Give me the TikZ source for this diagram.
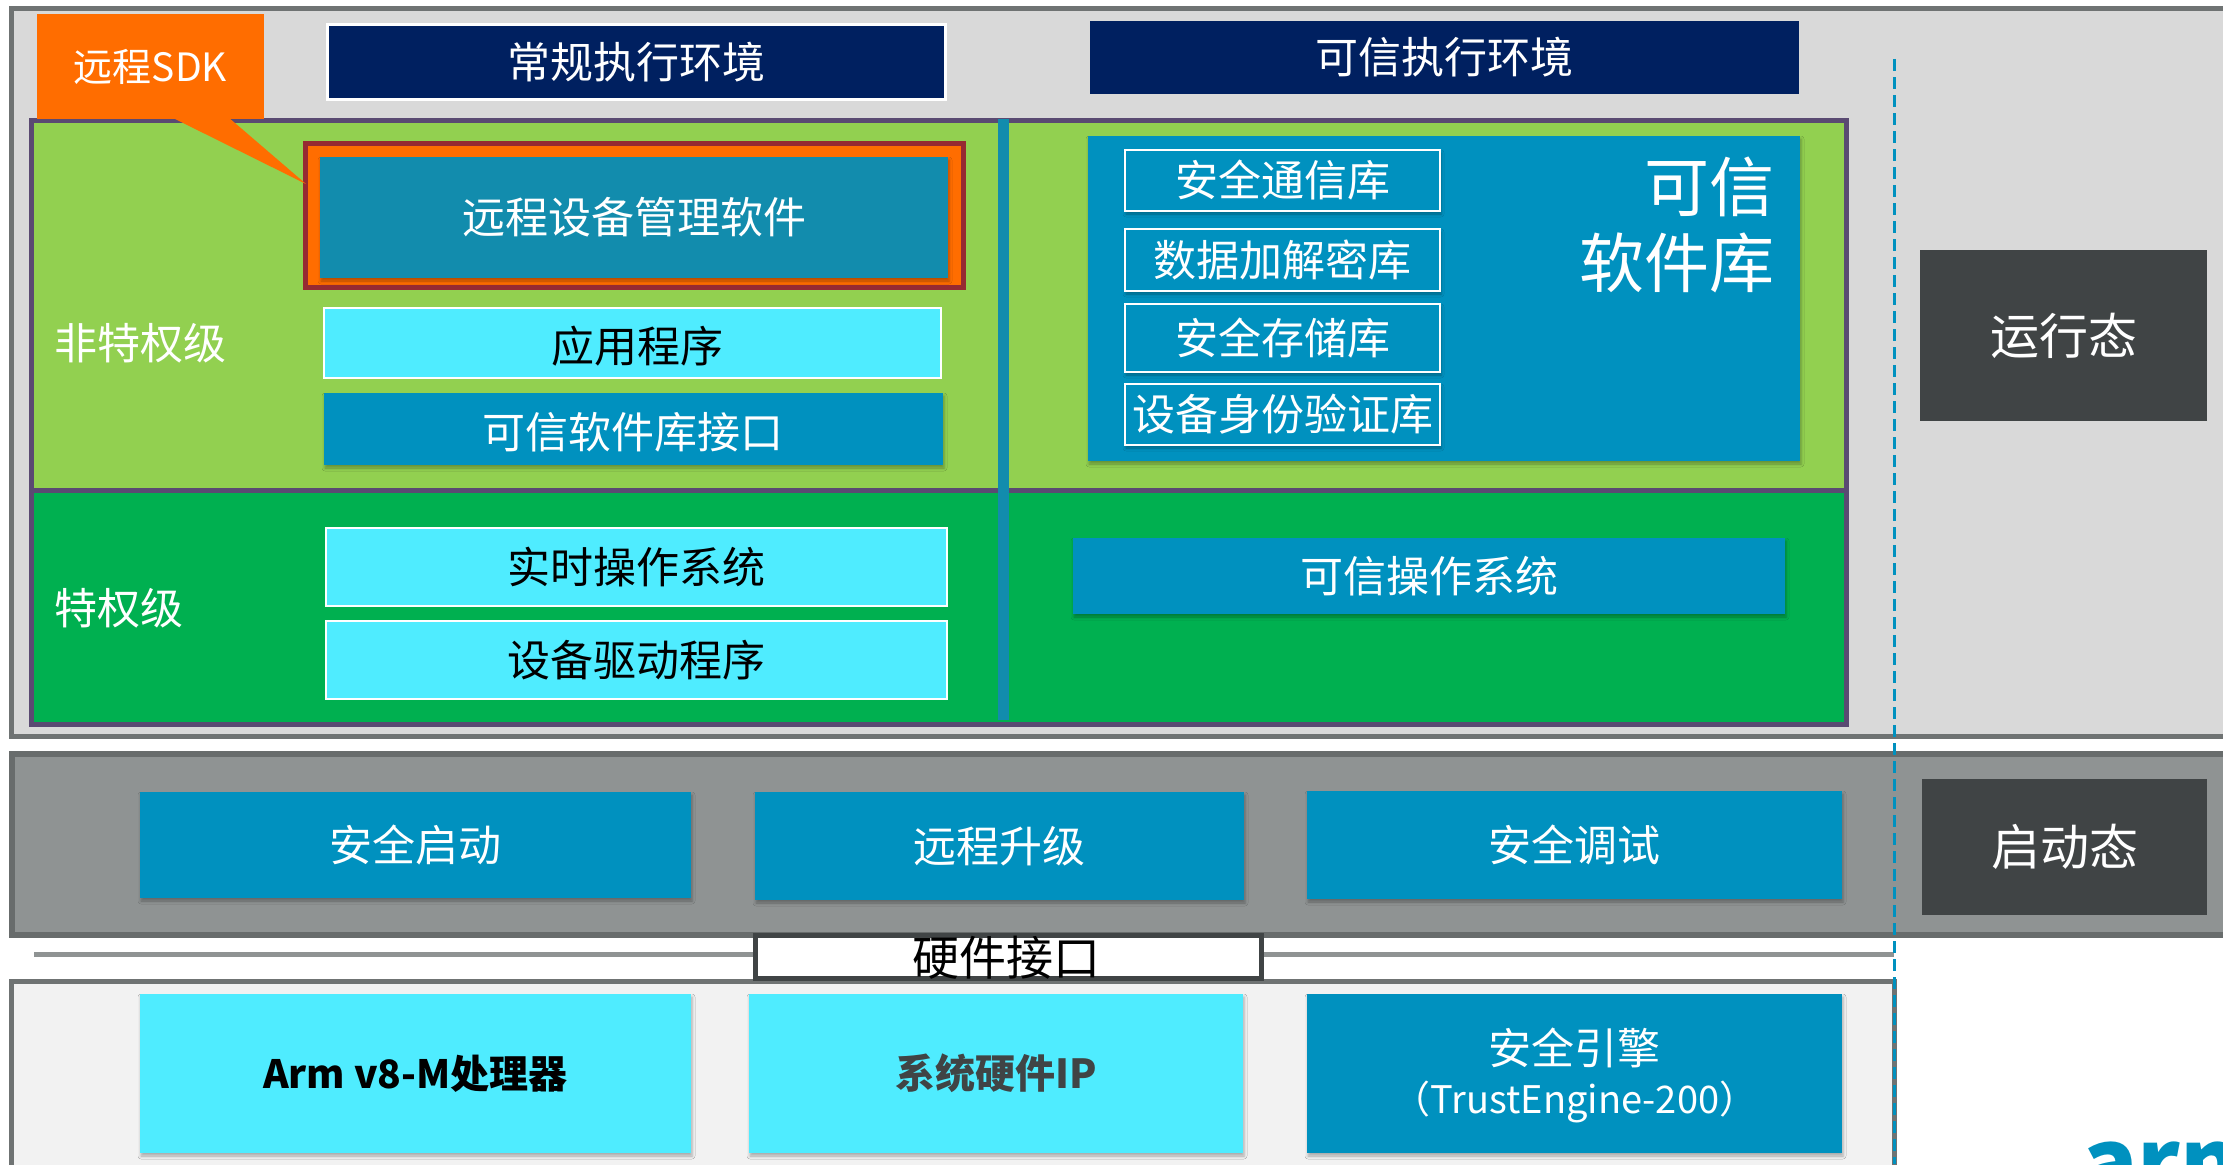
\documentclass[tikz,border=0pt]{standalone}
\usepackage{fontspec}
\setmainfont{Noto Sans CJK SC}
\usetikzlibrary{shadows.blur}
\definecolor{cGray}{HTML}{D9D9D9}
\definecolor{cGrayLine}{HTML}{6F7373}
\definecolor{cBand}{HTML}{8F9393}
\definecolor{cBandLine}{HTML}{686C6C}
\definecolor{cPale}{HTML}{F2F2F2}
\definecolor{cLight}{HTML}{92D050}
\definecolor{cDark}{HTML}{00B050}
\definecolor{cPurple}{HTML}{5A4A72}
\definecolor{cNavy}{HTML}{002060}
\definecolor{cBlue}{HTML}{0091BF}
\definecolor{cTeal}{HTML}{128CAD}
\definecolor{cCyan}{HTML}{4FECFF}
\definecolor{cOrange}{HTML}{FF6D00}
\definecolor{cRed}{HTML}{962A32}
\definecolor{cSlate}{HTML}{404445}
\tikzset{
  x=1pt,y=-1pt,
  bx/.style={rectangle,inner sep=0pt,outer sep=0pt,align=center,text=white},
  txt/.style={font=\fontsize{#1}{#1}\selectfont},
  txt/.default=43,
  shd/.style={blur shadow={shadow xshift=1pt,shadow yshift=-3pt,shadow blur radius=3pt,shadow opacity=30}},
  frameA/.style={bx,fill=cGray,draw=cGrayLine,line width=5pt},
  frameB/.style={bx,fill=cBand,draw=cBandLine,line width=6pt},
  frameC/.style={bx,fill=cPale,draw=cGrayLine,line width=5pt},
  zoneL/.style={bx,fill=cLight,draw=cPurple,line width=5pt},
  zoneD/.style={bx,fill=cDark,draw=cPurple,line width=5pt},
  navy/.style={bx,fill=cNavy,txt},
  blue/.style={bx,fill=cBlue,shd,txt},
  cyan/.style={bx,fill=cCyan,text=black,shd,txt},
  cyanw/.style={bx,fill=cCyan,draw=white,line width=2.5pt,text=black,txt},
  libbox/.style={bx,fill=cBlue,draw=white,line width=1.5pt,shd,txt},
  state/.style={bx,fill=cSlate,txt=49},
  plain/.style={bx,txt},
}
% name, x1, y1, x2, y2, style, text
\newcommand{\bxn}[7]{\node[#6,minimum width={(#4)-(#2)},minimum height={(#5)-(#3)}] (#1) at ({((#2)+(#4))/2},{((#3)+(#5))/2}) {#7};}
\begin{document}
\begin{tikzpicture}
\useasboundingbox (0,0) rectangle (2223,1164);
\begin{scope}
\clip (0,0) rectangle (2223,1164);
% frames
\bxn{runframe}{11.5}{8.5}{2260}{736}{frameA}{}
\bxn{bootframe}{11.5}{754}{2260}{935}{frameB}{}
\bxn{hwframe}{11.5}{981}{1894.5}{1200}{frameC}{}
% zones
\bxn{zonetop}{31}{120}{1846}{490}{zoneL}{}
\bxn{zonebot}{31}{490}{1846}{724.5}{zoneD}{}
\bxn{sep}{998}{119}{1008.5}{720}{bx,fill=cTeal}{}
% headers
\bxn{ree}{327}{25}{945}{99}{navy,draw=white,line width=3pt}{常规执行环境}
\bxn{tee}{1090}{21}{1799}{94}{navy}{可信执行环境}
% dashed line
\coordinate (dashtop) at (1894.5,59);
\coordinate (dashbot) at (1894.5,1164);
% remote management
\bxn{rmgr}{305.5}{143.5}{963}{287.5}{bx,fill=cOrange,draw=cRed,line width=5pt}{}
\bxn{rmsw}{320}{157}{948}{278}{bx,fill=cTeal,shd,txt}{远程设备管理软件}
% SDK callout
\bxn{sdk}{37}{14}{264}{119}{bx,fill=cOrange,txt=39}{远程SDK}
\coordinate (calltip) at (306,184);
\fill[cOrange] (171,117) -- (calltip) -- (228,117) -- cycle;
% non-privileged
\node[plain] (nonpriv) at (140.5,343) {非特权级};
\bxn{app}{324}{308}{941}{378}{cyanw}{}
\node[bx,txt,text=black] (appt) at (637.5,346.5) {应用程序};
\bxn{tlapi}{324}{393}{943}{465}{blue}{}
\node[bx,txt] (tlapit) at (633,432.5) {可信软件库接口};
% privileged
\node[plain] (priv) at (119,608) {特权级};
\bxn{rtos}{326}{528}{947}{606}{cyanw}{实时操作系统}
\bxn{drv}{326}{621}{947}{699}{cyanw}{设备驱动程序}
\bxn{tos}{1073}{538}{1785}{614}{blue}{}
\node[bx,txt] (tost) at (1429,576.5) {可信操作系统};
% trusted libs
\bxn{tlib}{1088}{136}{1800}{461}{blue}{}
\bxn{lib1}{1125}{150}{1440}{211}{libbox}{安全通信库}
\bxn{lib2}{1125}{229}{1440}{291}{libbox}{数据加解密库}
\bxn{lib3}{1125}{304}{1440}{372}{libbox}{安全存储库}
\bxn{lib4}{1125}{384}{1440}{445}{libbox}{设备身份验证库}
\node[bx,txt=65,anchor=east] (tl1) at (1774,187) {可信};
\node[bx,txt=65,anchor=east] (tl2) at (1774,263) {软件库};
% states
\bxn{run}{1920}{250}{2207}{421}{state}{运行态}
\bxn{boot}{1922}{779}{2207}{915}{state}{启动态}
% boot row
\bxn{sboot}{140}{792}{691}{898}{blue}{安全启动}
\bxn{rup}{755}{792}{1244}{900}{blue}{远程升级}
\bxn{sdbg}{1307}{791}{1842}{899}{blue}{安全调试}
% hardware interface
\coordinate (hwl) at (34,954.5);
\coordinate (hwr) at (1894,954.5);
\draw[cBand,line width=5pt] (hwl) -- (hwr);
\bxn{hwif}{755.5}{935.5}{1261.5}{978.5}{bx,fill=white,draw=cSlate,line width=5pt}{}
\node[bx,text=black,txt=47] (hwift) at (1006,958) {硬件接口};
% hardware row
\bxn{cpu}{140}{994}{691}{1153}{cyan,font=\fontsize{39}{39}\selectfont\bfseries}{Arm v8-M处理器}
\bxn{sys}{749}{994}{1243}{1153}{cyan,text=cSlate,font=\fontsize{40}{40}\selectfont\bfseries}{系统硬件IP}
\bxn{eng}{1307}{994}{1842}{1153}{blue}{}
\node[bx,txt] (eng1) at (1574,1048) {安全引擎};
\node[bx,txt=38] (eng2) at (1575,1102) {（TrustEngine-200）};
\draw[cBlue,line width=3pt,dash pattern=on 12pt off 6pt] (dashtop) -- (dashbot);
% logo
\node[bx,text=cBlue,anchor=base west,font=\fontsize{92}{92}\selectfont\bfseries] (armlogo) at (2082,1195) {arm};
\end{scope}
\end{tikzpicture}
\end{document}
